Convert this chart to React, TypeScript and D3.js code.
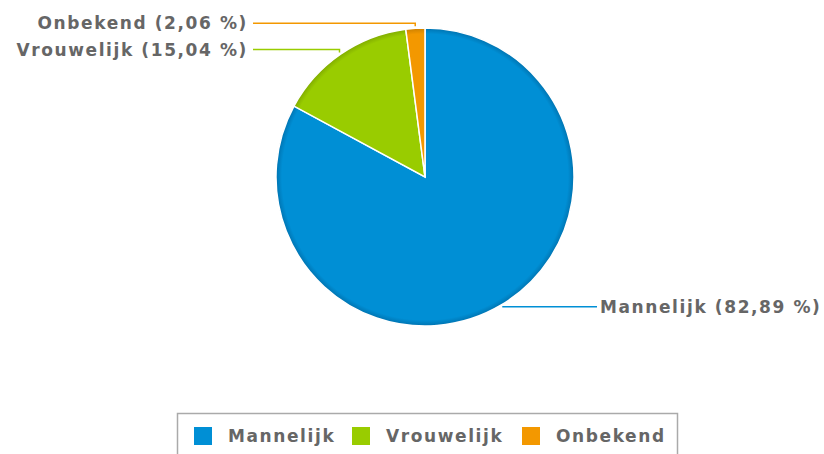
import React from "react";
import * as d3 from "d3";

const categories = ["Mannelijk", "Vrouwelijk", "Onbekend"];
const values = [82.89, 15.04, 2.06];
const labels = ["82,89", "15,04", "2,06"];
const colors = ["#008fd5", "#99cc00", "#f39800"];
const darkColors = ["#0073b0", "#80ab00", "#cc8000"];

const W = 824;
const H = 454;
const cx = 425;
const cy = 177;
const R = 149;
const textColor = "#666666";
const font = "'DejaVu Sans', Verdana, sans-serif";

export default function App() {
  const pie = d3.pie<number>().sort(null).value((d) => d)(values);
  const arc = d3.arc<d3.PieArcDatum<number>>().innerRadius(0).outerRadius(R);

  const items = pie.map((p, i) => {
    const mid = (p.startAngle + p.endAngle) / 2;
    const px = cx + Math.sin(mid) * (R + 2);
    const py = cy - Math.cos(mid) * (R + 2);
    const right = Math.sin(mid) > 0;
    const ly = right ? py : py - 3;
    return { p, i, px, py, ly, right };
  });

  return (
    <svg width={W} height={H} style={{ position: "absolute", left: 0, top: 0 }}>
      <defs>
        {colors.map((c, i) => (
          <radialGradient key={i} id={`g${i}`} gradientUnits="userSpaceOnUse" cx={0} cy={0} r={R}>
            <stop offset="0" stopColor={c} />
            <stop offset="0.96" stopColor={c} />
            <stop offset="1" stopColor={darkColors[i]} />
          </radialGradient>
        ))}
      </defs>
      <rect width={W} height={H} fill="#fff" />
      {items.map(({ p, i }) => (
        <path
          key={i}
          d={arc(p) || ""}
          transform={`translate(${cx},${cy})`}
          fill={`url(#g${i})`}
          stroke="#fff"
          strokeWidth={1.5}
        />
      ))}
      {items.map(({ i, px, py, ly, right }) => {
        const tx = right ? cx + 175 : cx - 177;
        const lineEnd = right ? tx - 3 : tx + 5;
        const d = right
          ? `M${px},${py}L${lineEnd},${ly}`
          : `M${px},${py}L${px},${ly}L${lineEnd},${ly}`;
        return (
          <g key={"l" + i}>
            <path d={d} fill="none" stroke={colors[i]} strokeWidth={1.5} />
            <text
              x={tx}
              y={ly}
              dy="0.36em"
              textAnchor={right ? "start" : "end"}
              fontFamily={font}
              fontWeight="bold"
              fontSize={17}
              letterSpacing={1.6}
              fill={textColor}
            >
              {`${categories[i]} (${labels[i]} %)`}
            </text>
          </g>
        );
      })}
      <rect x={177.5} y={413.5} width={500} height={50} fill="#fff" stroke="#aaa" strokeWidth={1.5} />
      {categories.map((c, i) => {
        const xs = [194, 352, 522];
        return (
          <g key={"lg" + i}>
            <rect x={xs[i]} y={427} width={18} height={18} fill={colors[i]} />
            <text
              x={xs[i] + 34}
              y={436}
              dy="0.36em"
              fontFamily={font}
              fontWeight="bold"
              fontSize={17}
              letterSpacing={1.6}
              fill={textColor}
            >
              {c}
            </text>
          </g>
        );
      })}
    </svg>
  );
}
